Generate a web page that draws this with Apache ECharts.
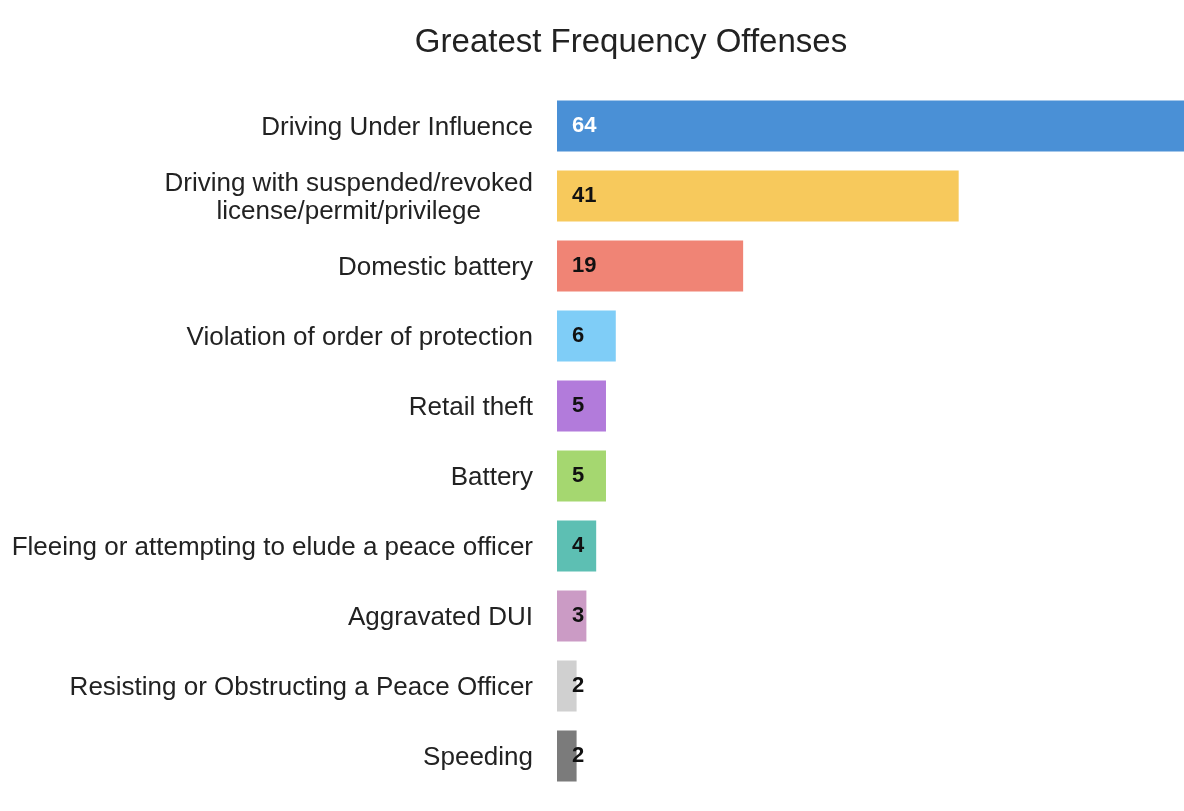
<!DOCTYPE html>
<html>
<head>
<meta charset="utf-8">
<script src="https://cdn.jsdelivr.net/npm/echarts@6/dist/echarts.min.js"></script>
<style>
html,body{margin:0;padding:0;background:#fff;}
#chart{width:1184px;height:811px;}
</style>
</head>
<body>
<div id="chart"></div>
<script>
const categories = [
  "Driving Under Influence",
  "Driving with suspended/revoked\nlicense/permit/privilege",
  "Domestic battery",
  "Violation of order of protection",
  "Retail theft",
  "Battery",
  "Fleeing or attempting to elude a peace officer",
  "Aggravated DUI",
  "Resisting or Obstructing a Peace Officer",
  "Speeding"
];
const values = [64, 41, 19, 6, 5, 5, 4, 3, 2, 2];
const colors = ["#4A90D6", "#F7C95C", "#F08475", "#7FCDF7", "#B27BDB", "#A5D770", "#5DBFB3", "#CB9BC5", "#D0D0D0", "#7B7B7B"];
const labelColors = ["#ffffff", "#111111", "#111111", "#111111", "#111111", "#111111", "#111111", "#111111", "#111111", "#111111"];

const chart = echarts.init(document.getElementById('chart'));
chart.setOption({
  backgroundColor: '#ffffff',
  animation: false,
  title: {
    text: 'Greatest Frequency Offenses',
    left: 626,
    textAlign: 'center',
    top: 21,
    textStyle: { fontFamily: 'Liberation Sans, Arial, sans-serif', fontSize: 33, fontWeight: 'normal', color: '#222222' }
  },
  grid: { left: 557, top: 91, width: 634, height: 700, containLabel: false },
  xAxis: { type: 'value', min: 0, max: 64, show: false },
  yAxis: {
    type: 'category',
    inverse: true,
    data: categories,
    axisLine: { show: false },
    axisTick: { show: false },
    splitLine: { show: false },
    axisLabel: {
      margin: 24,
      formatter: function (v) {
        return v.split('\n').map(function (l) { return '{c|' + l + '}'; }).join('\n');
      },
      rich: {
        c: { align: 'center', fontFamily: 'Liberation Sans, Arial, sans-serif', fontSize: 26, color: '#222222', lineHeight: 28, padding: [3, 0, 0, 0] }
      }
    }
  },
  series: [{
    type: 'bar',
    barWidth: 51,
    data: values.map(function (v, i) {
      return { value: v, itemStyle: { color: colors[i] }, label: { color: labelColors[i] } };
    }),
    label: {
      show: true,
      position: 'insideLeft',
      distance: 15,
      fontFamily: 'Liberation Sans, Arial, sans-serif',
      fontWeight: 'bold',
      fontSize: 22
    }
  }]
});
</script>
</body>
</html>
